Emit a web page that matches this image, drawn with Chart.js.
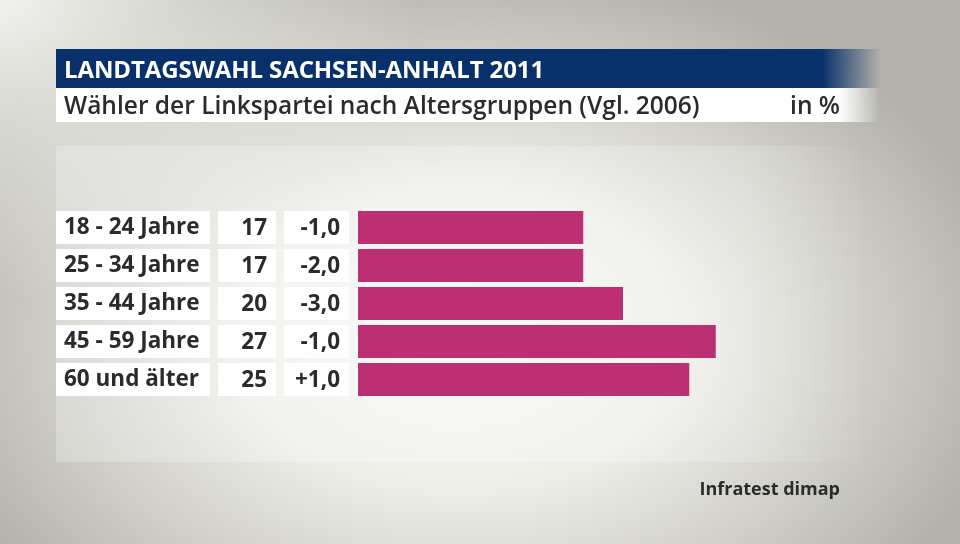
<!DOCTYPE html>
<html>
<head>
<meta charset="utf-8">
<script src="https://cdn.jsdelivr.net/npm/chart.js@4/dist/chart.umd.min.js"></script>
<style>
  html, body { margin: 0; padding: 0; }
  body {
    width: 960px; height: 544px; overflow: hidden; position: relative;
    font-family: "Open Sans", sans-serif;
    background:
      radial-gradient(ellipse 420px 300px at 0% 0%, rgba(248,248,244,0.9), rgba(248,248,244,0) 100%),
      radial-gradient(ellipse 560px 380px at 48% 62%, #f9f9f5 0%, #eeeee9 40%, #cfcec7 72%, #b2b1a9 100%);
    background-color: #b2b1a9;
  }
  #panel {
    position: absolute; left: 56px; top: 146px; width: 810px; height: 316px;
    background: linear-gradient(to right, rgba(255,255,255,0.25) 0%, rgba(255,255,255,0.2) 85%, rgba(255,255,255,0) 100%);
  }
  #titlebar {
    position: absolute; left: 56px; top: 49px; width: 824px; height: 39px;
    background: linear-gradient(to right, #08306b 0%, #08306b 93%, rgba(8,48,107,0) 100%);
    color: #fff; font-weight: 700; font-size: 24px; line-height: 39px;
    padding-left: 8px; box-sizing: border-box; letter-spacing: -0.1px;
  }
  #subbar {
    position: absolute; left: 56px; top: 88px; width: 824px; height: 34px;
    background: linear-gradient(to right, #fff 0%, #fff 95%, rgba(255,255,255,0) 100%);
    color: #2b2b2b; font-weight: 600; font-size: 24.5px; line-height: 34px;
    padding-left: 8px; box-sizing: border-box;
  }
  #unit { position: absolute; right: 40px; top: 0; }
  #source {
    position: absolute; right: 120px; top: 476px;
    color: #2b2b2b; font-weight: 700; font-size: 18px;
  }
  canvas { position: absolute; left: 0; top: 0; }
</style>
</head>
<body>
<div id="panel"></div>
<canvas id="chart" width="960" height="544"></canvas>
<div id="titlebar">LANDTAGSWAHL SACHSEN-ANHALT 2011</div>
<div id="subbar">Wähler der Linkspartei nach Altersgruppen (Vgl. 2006)<span id="unit">in %</span></div>
<div id="source">Infratest dimap</div>
<script>
const categories = ['18 - 24 Jahre', '25 - 34 Jahre', '35 - 44 Jahre', '45 - 59 Jahre', '60 und älter'];
const shares = [17, 17, 20, 27, 25];
const changes = ['-1,0', '-2,0', '-3,0', '-1,0', '+1,0'];

document.addEventListener("DOMContentLoaded", () => {
  const textColor = '#2b2b2b';

  // white boxes behind labels plus the value and change columns
  const tableColumns = {
    id: 'tableColumns',
    beforeDraw(chart) {
      const ctx = chart.ctx;
      const yScale = chart.scales.y;
      ctx.save();
      categories.forEach((cat, i) => {
        const y = yScale.getPixelForValue(i);
        ctx.fillStyle = '#ffffff';
        ctx.fillRect(56, y - 16.5, 154, 33);
        ctx.fillRect(218, y - 16.5, 58, 33);
        ctx.fillRect(284, y - 16.5, 65, 33);
        ctx.fillStyle = textColor;
        ctx.font = '700 22.5px "Open Sans"';
        ctx.textBaseline = 'middle';
        ctx.textAlign = 'right';
        ctx.fillText(String(shares[i]), 267, y + 1);
        ctx.fillText(changes[i], 340, y + 1);
      });
      ctx.restore();
    }
  };

  new Chart(document.getElementById('chart'), {
    type: 'bar',
    data: {
      labels: categories,
      datasets: [{
        data: shares,
        backgroundColor: '#bd2f73',
        borderWidth: 0,
        barPercentage: 33 / 38,
        categoryPercentage: 1
      }]
    },
    options: {
      indexAxis: 'y',
      responsive: false,
      animation: false,
      layout: {
        padding: { left: 64, right: 72, top: 208.5, bottom: 145.5 }
      },
      scales: {
        x: {
          display: false,
          min: 0,
          max: 40,
          grid: { display: false }
        },
        y: {
          grid: { display: false },
          border: { display: false },
          afterFit: (scale) => { scale.width = 294; },
          ticks: {
            crossAlign: 'far',
            color: textColor,
            font: { family: 'Open Sans', size: 22.5, weight: '700' }
          }
        }
      },
      plugins: {
        legend: { display: false },
        tooltip: { enabled: false }
      }
    },
    plugins: [tableColumns]
  });
});
</script>
</body>
</html>
